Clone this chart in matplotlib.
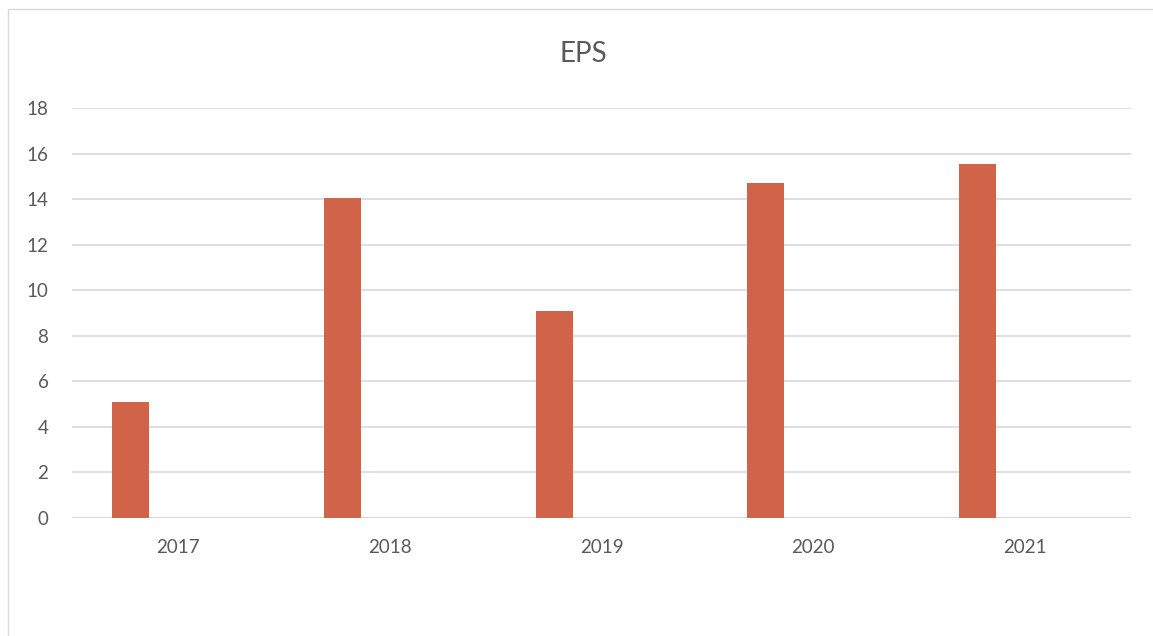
import matplotlib.pyplot as plt
import numpy as np
from matplotlib.patches import Rectangle

years = ['2017', '2018', '2019', '2020', '2021']
eps = [5.1, 14.07, 9.07, 14.72, 15.55]

plt.rcParams['font.family'] = ['Lato', 'DejaVu Sans']

W, H = 1153, 636
fig = plt.figure(figsize=(W / 100, H / 100), dpi=100)

# chart border like an Excel chart frame (runs off right and bottom edges)
fig.patches.append(Rectangle((8 / W, -0.05), 1.0, 1.05 - 9 / H,
                             transform=fig.transFigure, fill=False,
                             edgecolor='#D9D9D9', linewidth=1))

ax = fig.add_axes([72 / W, 118 / H, (1131 - 72) / W, 410 / H])
x = np.arange(len(years))
ax.bar(x - 0.224, eps, width=0.175, color='#D16349', zorder=3)

ax.set_xlim(-0.5, len(years) - 0.5)
ax.set_ylim(0, 18)
ax.set_yticks(range(0, 19, 2))
ax.set_xticks(x)
ax.set_xticklabels(years)
ax.grid(axis='y', color='#D9D9D9', linewidth=1.2, zorder=0)
ax.axhline(0, color='#D9D9D9', linewidth=1.5, zorder=2)
for s in ax.spines.values():
    s.set_visible(False)
ax.tick_params(length=0, labelsize=13.5, colors='#595959')
ax.tick_params(axis='x', pad=15)
ax.tick_params(axis='y', pad=17)

fig.text(583 / W, 1 - 54 / H, 'EPS', ha='center', va='center',
         fontsize=20, color='#595959')

fig.savefig('out.png', dpi=100)
